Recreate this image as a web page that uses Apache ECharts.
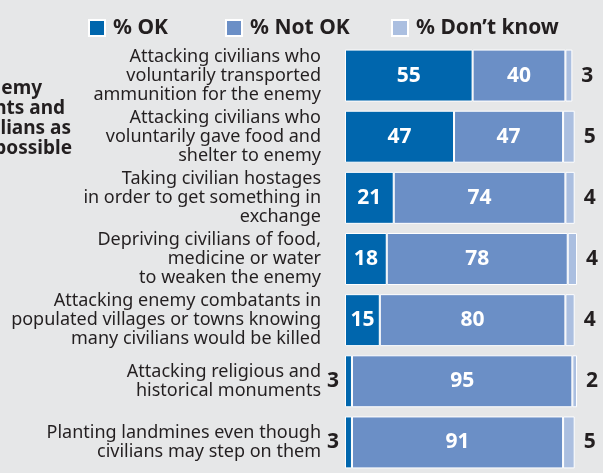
<!DOCTYPE html>
<html><head><meta charset="utf-8">
<script src="https://cdn.jsdelivr.net/npm/echarts@6/dist/echarts.min.js"></script>
<style>html,body{margin:0;padding:0;background:#e6e7e8}#c{width:603px;height:473px}</style>
</head><body><div id="c"></div>
<script>
const categories = [
  "Attacking civilians who\nvoluntarily transported\nammunition for the enemy",
  "Attacking civilians who\nvoluntarily gave food and\nshelter to enemy",
  "Taking civilian hostages\nin order to get something in\nexchange",
  "Depriving civilians of food,\nmedicine or water\nto weaken the enemy",
  "Attacking enemy combatants in\npopulated villages or towns knowing\nmany civilians would be killed",
  "Attacking religious and\nhistorical monuments",
  "Planting landmines even though\ncivilians may step on them"
];
const okValues = [55, 47, 21, 18, 15, 3, 3];
const notOkValues = [40, 47, 74, 78, 80, 95, 91];
const dontKnowValues = [3, 5, 4, 4, 4, 2, 5];
const seriesNames = ["% OK", "% Not OK", "% Don\u2019t know"];
const sideTitleLines = ["enemy", "combatants and", "civilians as", "possible"];

const C_OK = '#0066ad', C_NOT = '#6b8fc6', C_DK = '#abbfe0', DARK = '#231f20';
const chart = echarts.init(document.getElementById('c'), null, {renderer: 'canvas'});
const inLabel = {show: true, position: 'inside', color: '#fff', fontFamily: 'Noto Sans', fontWeight: 'bold', fontSize: 21};
const legendBase = {top: 12, itemWidth: 16, itemHeight: 16, icon: 'rect',
  textStyle: {fontFamily: 'Noto Sans', fontWeight: 'bold', fontSize: 21, color: DARK, lineHeight: 22, padding: [0,0,0,3]}};
const titleX = [42, 65, 71, 72];
const titleY = [89, 109, 129, 149];
chart.setOption({
  backgroundColor: '#e6e7e8',
  animation: false,
  legend: [
    Object.assign({}, legendBase, {left: 83, data: [seriesNames[0]]}),
    Object.assign({}, legendBase, {left: 220, data: [seriesNames[1]]}),
    Object.assign({}, legendBase, {left: 386, data: [seriesNames[2]]})
  ],
  grid: {left: 345, width: 232, top: 45, height: 435},
  xAxis: {type: 'value', min: 0, max: 100, show: false},
  yAxis: {type: 'category', data: categories, inverse: true,
    axisLine: {show: false}, axisTick: {show: false},
    axisLabel: {margin: 24, fontFamily: 'Noto Sans', fontSize: 18, color: DARK, lineHeight: 19, align: 'right'}},
  graphic: sideTitleLines.map((t, i) => ({type: 'text', x: titleX[i], y: titleY[i],
    style: {text: t, align: 'right', verticalAlign: 'middle', fill: DARK, font: 'bold 19px "Noto Sans"'}})),
  series: [
    {name: seriesNames[0], type: 'bar', stack: 'a', barCategoryGap: '15%', itemStyle: {color: C_OK, borderColor: '#fff', borderWidth: 1},
      label: inLabel,
      data: okValues.map(v => v < 10 ? {value: v, label: {position: 'left', distance: 6, color: DARK}} : v)},
    {name: seriesNames[1], type: 'bar', stack: 'a', itemStyle: {color: C_NOT, borderColor: '#fff', borderWidth: 1},
      label: inLabel, data: notOkValues},
    {name: seriesNames[2], type: 'bar', stack: 'a', itemStyle: {color: C_DK, borderColor: '#fff', borderWidth: 1},
      label: {show: true, position: 'right', distance: 9, color: DARK, fontFamily: 'Noto Sans', fontWeight: 'bold', fontSize: 21},
      data: dontKnowValues}
  ]
});
</script></body></html>
